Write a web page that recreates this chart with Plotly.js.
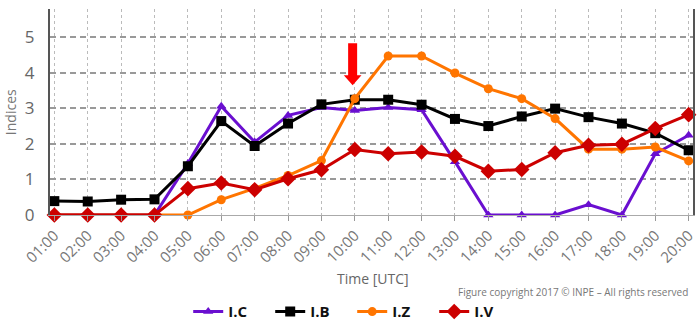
<!DOCTYPE html>
<html>
<head>
<meta charset="utf-8">
<script src="https://cdn.plot.ly/plotly-3.0.1.min.js"></script>
<style>html,body{margin:0;padding:0;background:#fff;}#chart{width:700px;height:322px;}</style>
</head>
<body>
<div id="chart"></div>
<script>
const times = ["01:00","02:00","03:00","04:00","05:00","06:00","07:00","08:00","09:00","10:00","11:00","12:00","13:00","14:00","15:00","16:00","17:00","18:00","19:00","20:00"];
const yTicks = [0,1,2,3,4,5];
const seriesNames = ["I.C","I.B","I.Z","I.V"];
const valuesIC = [0,0,0,0,1.45,3.06,2.05,2.8,3.02,2.94,3.02,2.96,1.5,0,0,0,0.29,0,1.72,2.24];
const valuesIB = [0.39,0.38,0.43,0.44,1.37,2.64,1.94,2.57,3.11,3.24,3.24,3.1,2.7,2.5,2.77,2.99,2.75,2.57,2.3,1.82];
const valuesIZ = [0,0,0,0,0,0.43,0.75,1.11,1.53,3.27,4.47,4.47,3.99,3.55,3.27,2.71,1.85,1.85,1.91,1.52];
const valuesIV = [0,0,0,0,0.74,0.9,0.71,1.02,1.27,1.84,1.72,1.77,1.65,1.23,1.28,1.75,1.96,1.99,2.43,2.82];

const colors = ["#6a0fd0","#000000","#ff7500","#cc0000"];
const symbols = ["triangle-up","square","circle","diamond"];
const sizes = [9,10,9,12];
const allValues = [valuesIC, valuesIB, valuesIZ, valuesIV];

const traces = allValues.map((vals, i) => ({
  type: "scatter",
  mode: "lines+markers",
  name: seriesNames[i],
  x: times,
  y: vals,
  line: {color: colors[i], width: 3},
  marker: {color: colors[i], symbol: symbols[i], size: sizes[i]},
  cliponaxis: false
}));

const font = "'Open Sans', 'DejaVu Sans', sans-serif";

const layout = {
  width: 700, height: 322,
  margin: {l: 50, r: 7, t: 9, b: 107, autoexpand: false},
  paper_bgcolor: "#fff", plot_bgcolor: "#fff",
  showlegend: true,
  legend: {
    orientation: "h", x: 0.47, xanchor: "center",
    y: -0.47, yanchor: "middle",
    font: {family: font, size: 15, color: "#111", weight: "bold"},
    entrywidth: 37, entrywidthmode: "pixels",
    tracegroupgap: 0
  },
  xaxis: {
    type: "category",
    range: [-0.13, 19.13],
    tickvals: times, ticktext: times,
    tickangle: -45,
    tickfont: {family: font, size: 15, color: "#777"},
    showgrid: true, gridcolor: "#bbbbbb", gridwidth: 1, griddash: "dot",
    showline: true, linecolor: "#aaaaaa", linewidth: 1,
    ticks: "outside", ticklen: 5, tickcolor: "#999",
    zeroline: false, fixedrange: true, automargin: false
  },
  yaxis: {
    range: [0, 5.79],
    tickvals: yTicks,
    tickfont: {family: font, size: 17, color: "#666"},
    ticklabelstandoff: 10,
    showgrid: true, gridcolor: "#999999", gridwidth: 2, griddash: "6px,4px",
    showline: true, mirror: true, linecolor: "#555", linewidth: 2,
    ticks: "", zeroline: false, fixedrange: true, automargin: false
  },
  shapes: [{
    type: "path", xref: "x", yref: "y",
    path: "M 8.8,4.83 L 9.07,4.83 L 9.07,3.93 L 9.2,3.93 L 8.935,3.65 L 8.67,3.93 L 8.8,3.93 Z",
    fillcolor: "#ff0000", line: {width: 0}
  }],
  annotations: [
    {text: "Indices", xref: "paper", yref: "paper", x: -0.062, y: 0.5, xanchor: "center", yanchor: "middle",
     textangle: -90, showarrow: false, font: {family: font, size: 14, color: "#777"}},
    {text: "Time [UTC]", xref: "paper", yref: "paper", x: 0.502, y: -0.31, xanchor: "center", yanchor: "middle",
     showarrow: false, font: {family: font, size: 14, color: "#666"}},
    {text: "Figure copyright 2017 © INPE – All rights reserved", xref: "paper", yref: "paper", x: 0.996, y: -0.374,
     xanchor: "right", yanchor: "middle", showarrow: false, font: {family: font, size: 10, color: "#777"}}
  ]
};

Plotly.newPlot("chart", traces, layout, {displayModeBar: false, staticPlot: true});
</script>
</body>
</html>
